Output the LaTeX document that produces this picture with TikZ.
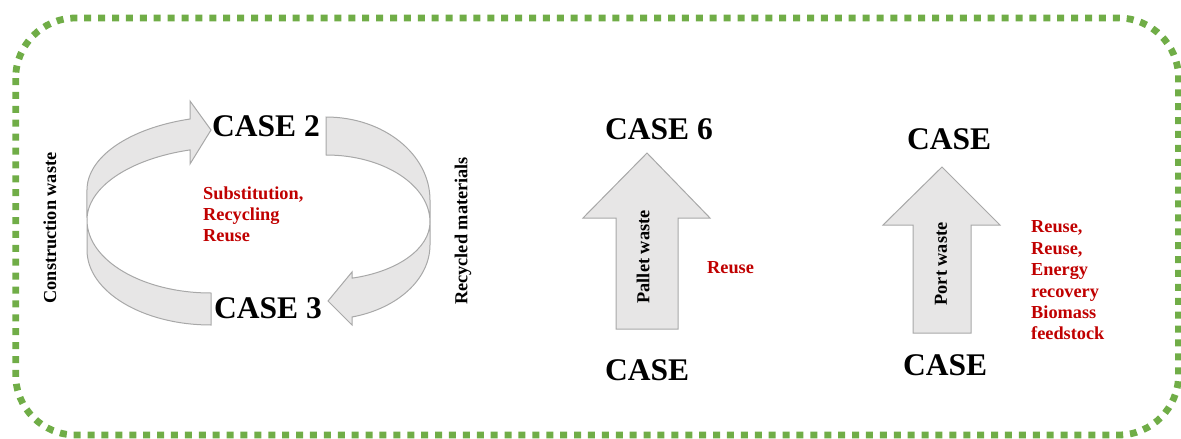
\documentclass[tikz,border=0pt]{standalone}
\usepackage{fontspec}
\setmainfont{Liberation Serif}
\definecolor{framegreen}{RGB}{112,173,71}
\definecolor{arrowfill}{RGB}{231,230,230}
\definecolor{arrowline}{RGB}{168,168,168}
\definecolor{labelred}{RGB}{192,0,0}
\tikzset{
  frameline/.style={draw=framegreen, line width=6.8, dash pattern=on 7 off 6.9, rounded corners=60},
  band/.style={fill=arrowfill, draw=arrowline, line width=1, line join=miter},
  casetext/.style={font=\fontsize{31.5}{36}\selectfont\bfseries, inner sep=0, anchor=base west},
  redtext/.style={font=\fontsize{18.3}{21}\selectfont\bfseries, text=labelred, inner sep=0, anchor=base west},
  sidetext/.style={font=\fontsize{18.3}{21}\selectfont\bfseries, rotate=90, inner sep=0}
}
\begin{document}
\begin{tikzpicture}[x=1pt,y=-1pt]
\useasboundingbox (0,0) rectangle (1181,439);

% dotted outer frame
\draw[frameline] (15.7,18) rectangle (1178.5,435);

% left curved arrow: upper ribbon with head, lower ribbon
\path[band] (87,220) arc[start angle=180, end angle=253.76, x radius=143, y radius=73]
  -- (190,164) -- (211,130) -- (190,101) -- (190,119)
  arc[start angle=253.76, end angle=180, x radius=143, y radius=74] -- cycle;
\path[band] (87,220) arc[start angle=180, end angle=90, x radius=124, y radius=73]
  -- (211,325) arc[start angle=90, end angle=180, x radius=124, y radius=75] -- cycle;

% right curved arrow: upper ribbon, lower ribbon with head
\path[band] (326,117) arc[start angle=270, end angle=360, x radius=104, y radius=83]
  -- (430,222) arc[start angle=360, end angle=270, x radius=104, y radius=67] -- cycle;
\path[band] (430,222) arc[start angle=0, end angle=75.52, x radius=104, y radius=58]
  -- (352,272) -- (328,301) -- (352,325) -- (352,317)
  arc[start angle=75.52, end angle=0, x radius=104, y radius=74.4] -- cycle;

% block arrows
\path[band] (616,329) -- (616,218) -- (583,218) -- (647,153) -- (710,218) -- (678,218) -- (678,329) -- cycle;
\path[band] (913,333) -- (913,225) -- (883,225) -- (942,167) -- (1000,225) -- (971,225) -- (971,333) -- cycle;

% case labels
\node[casetext] (case2) at (212,136) {CASE 2};
\node[casetext] (case3) at (214,318) {CASE 3};
\node[casetext] (case6) at (605,139) {CASE 6};
\node[casetext] (caseB) at (605,380) {CASE};
\node[casetext] (caseC) at (907,149) {CASE};
\node[casetext] (caseD) at (903,375) {CASE};

% flow labels
\node[sidetext] (constr) at (50,228) {Construction waste};
\node[sidetext] (recyc) at (463,231) {Recycled materials};
\node[sidetext] (pallet) at (643,257) {Pallet waste};
\node[sidetext] (port) at (941,264) {Port waste};

% treatment labels
\node[redtext] (sub1) at (203,199) {Substitution,};
\node[redtext] (sub2) at (203,220) {Recycling};
\node[redtext] (sub3) at (203,241) {Reuse};
\node[redtext] (reuseP) at (707,273) {Reuse};
\node[redtext] (r1) at (1031,232) {Reuse,};
\node[redtext] (r2) at (1031,254) {Reuse,};
\node[redtext] (r3) at (1031,275) {Energy};
\node[redtext] (r4) at (1031,297) {recovery};
\node[redtext] (r5) at (1031,318) {Biomass};
\node[redtext] (r6) at (1031,339) {feedstock};
\end{tikzpicture}
\end{document}
